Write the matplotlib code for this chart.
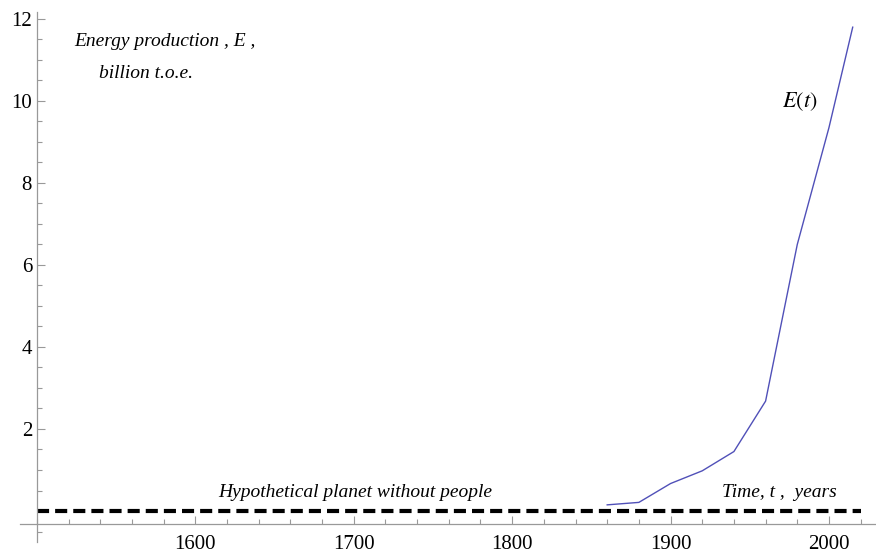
import numpy as np
import matplotlib
matplotlib.use('Agg')
import matplotlib.pyplot as plt
from matplotlib.ticker import FixedLocator, MultipleLocator

plt.rcParams['font.family'] = ['Liberation Serif', 'DejaVu Serif']
plt.rcParams['mathtext.fontset'] = 'stix'

# world energy production, billion t.o.e.
years = [1860, 1880, 1900, 1920, 1940, 1960, 1980, 2000, 2015]
energy = [0.15, 0.21, 0.67, 0.98, 1.45, 2.68, 6.5, 9.35, 11.8]

# hypothetical planet without people
base_years = [1500, 2020]
base_energy = [0.0, 0.0]

x_major = [1600, 1700, 1800, 1900, 2000]
y_major = [2, 4, 6, 8, 10, 12]

fig = plt.figure(figsize=(8.76, 5.53), dpi=100)
ax = fig.add_axes([20 / 876, 11 / 553, 856 / 876, 530 / 553])

ax.plot(years, energy, color='#5050b8', lw=1.0)
ax.plot(base_years, base_energy, color='black', lw=3.0, dashes=(2.9, 1.45),
        solid_capstyle='butt', dash_capstyle='butt')

ax.set_xlim(1489.3, 2029.7)
ax.set_ylim(-0.756, 12.17)

# Mathematica style crossing axes
for s in ['top', 'right']:
    ax.spines[s].set_visible(False)
ax.spines['left'].set_position(('data', 1500))
ax.spines['bottom'].set_position(('data', -0.32))
for s in ['left', 'bottom']:
    ax.spines[s].set_color('#999999')
    ax.spines[s].set_linewidth(0.9)

ax.xaxis.set_major_locator(FixedLocator(x_major))
ax.xaxis.set_minor_locator(MultipleLocator(20))
ax.yaxis.set_major_locator(FixedLocator(y_major))
ax.yaxis.set_minor_locator(MultipleLocator(0.5))
ax.set_xticklabels([str(v) for v in x_major])
ax.set_yticklabels([str(v) for v in y_major])

ax.tick_params(which='both', direction='in', color='#999999', width=0.8, labelsize=15)
ax.tick_params(which='major', length=5.5)
ax.tick_params(which='minor', length=3.3)
ax.tick_params(axis='x', pad=8)
ax.tick_params(axis='y', pad=3.5)

ax.text(1523.4, 11.44, 'Energy production , E ,', style='italic', fontsize=14,
        ha='left', va='center')
ax.text(1539, 10.68, 'billion t.o.e.', style='italic', fontsize=14,
        ha='left', va='center')
ax.text(1981.4, 9.98, r'$E(t)$', fontsize=16, ha='center', va='center')
ax.text(1700.9, 0.46, 'Hypothetical planet without people', style='italic',
        fontsize=14, ha='center', va='center')
ax.text(1932.7, 0.46, 'Time, t ,  years', style='italic', fontsize=14,
        ha='left', va='center')

fig.savefig('out.png', dpi=100)
